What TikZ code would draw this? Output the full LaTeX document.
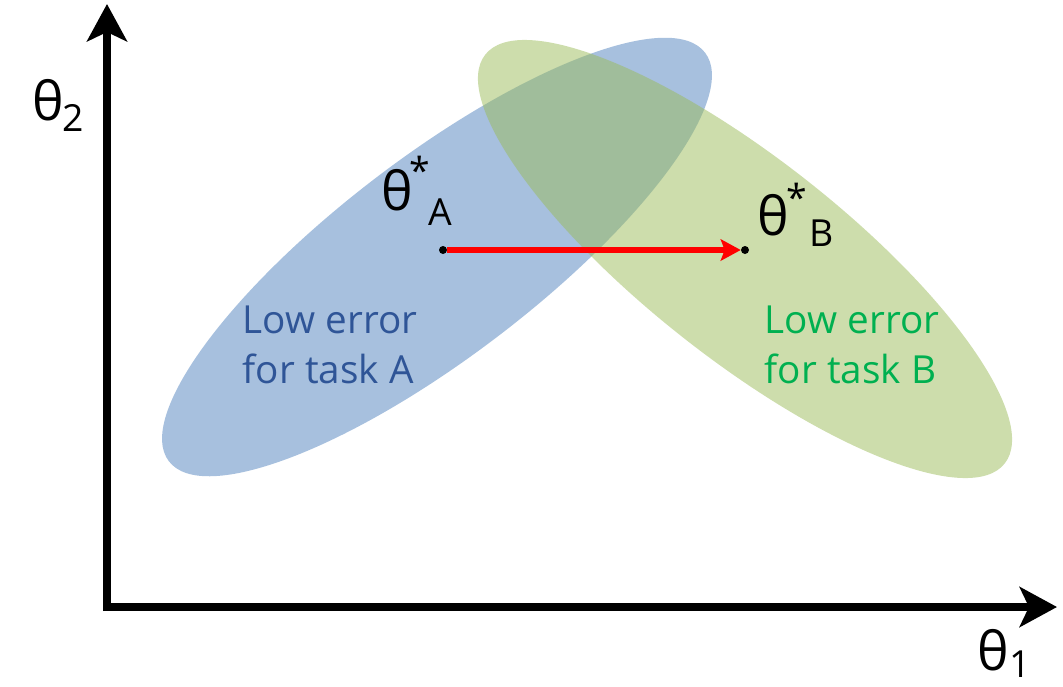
\documentclass[tikz,border=0pt]{standalone}
\usepackage{fontspec}
\setmainfont{Open Sans}
\usetikzlibrary{arrows.meta}
\definecolor{ellblue}{RGB}{79,129,189}
\definecolor{ellgreen}{RGB}{155,187,89}
\definecolor{txtblue}{RGB}{47,85,151}
\definecolor{txtgreen}{RGB}{0,176,80}
\begin{document}
\begin{tikzpicture}[x=0.75pt,y=-0.75pt,
  axis/.style={line width=6pt,-{Stealth[length=28pt,width=30pt,inset=7pt]}},
  move/.style={red,line width=4.5pt,-{Stealth[length=15pt,width=16pt,inset=3pt]}},
  pt/.style={circle,fill=black,inner sep=0pt,minimum size=6pt},
  big/.style={font=\fontsize{40}{40}\selectfont,inner sep=0pt},
  sub/.style={font=\fontsize{28}{28}\selectfont,inner sep=0pt},
  lbl/.style={font=\fontsize{29}{38}\selectfont,align=left,inner sep=0pt}]
\useasboundingbox (0,0) rectangle (1063,686);
% ellipses
\fill[ellblue,opacity=0.5] (437,257) ellipse [x radius=252.8pt,y radius=75pt,rotate=37.3];
\fill[ellgreen,opacity=0.5] (745,259) ellipse [x radius=247.9pt,y radius=75pt,rotate=-38.2];
% axes
\coordinate (ytip) at (107,4);
\coordinate (xtip) at (1057,607);
\draw[axis] (107,611) -- (ytip);
\draw[axis] (103,607) -- (xtip);
\node[big] (t2) at (48,100) {θ};
\node[sub] (t2s) at (73,118) {2};
\node[big] (t1) at (993,650) {θ};
\node[sub] (t1s) at (1020,664) {1};
% points
\node[pt] (a) at (443,250) {};
\node[pt] (b) at (745,250) {};
\draw[move] (a) -- (b);
\node[big] (ta) at (397,190) {θ};
\node[sub] (sa) at (420,170) {*};
\node[sub] (ua) at (440,212) {A};
\node[big] (tb) at (773,215) {θ};
\node[sub] (sb) at (797,197) {*};
\node[sub] (ub) at (822,233) {B};
% labels
\node[lbl,text=txtblue] (la) at (330,345) {Low error\\for task A};
\node[lbl,text=txtgreen] (lb) at (852,345) {Low error\\for task B};
\end{tikzpicture}
\end{document}
